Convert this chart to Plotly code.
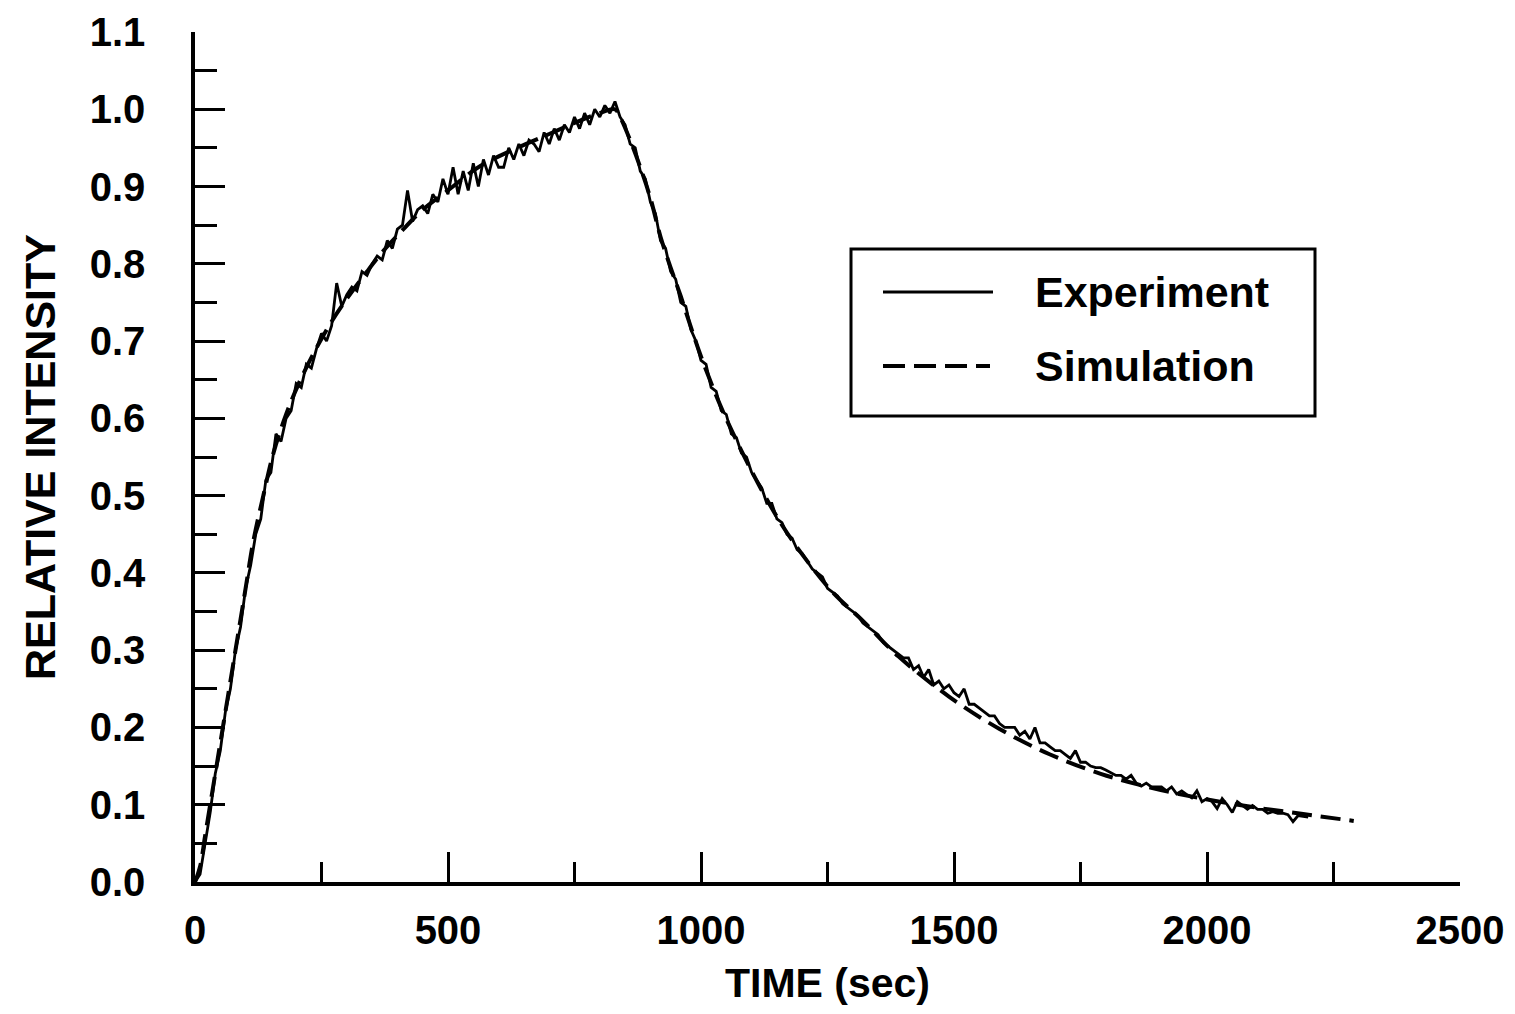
import plotly.graph_objects as go

# ---------------- data ----------------
exp_time = list(range(0, 2201, 10))
exp_value = [
    0.00, 0.01, 0.05, 0.09, 0.14, 0.17, 0.22, 0.25, 0.30, 0.33, 0.38,
    0.41, 0.45, 0.47, 0.52, 0.53, 0.58, 0.57, 0.60, 0.61, 0.645,
    0.64, 0.67, 0.665, 0.69, 0.71, 0.70, 0.72, 0.775, 0.745, 0.76,
    0.77, 0.765, 0.79, 0.785, 0.80, 0.81, 0.805, 0.83, 0.82, 0.845,
    0.85, 0.895, 0.855, 0.87, 0.875, 0.865, 0.89, 0.88, 0.91, 0.89,
    0.925, 0.89, 0.92, 0.895, 0.93, 0.90, 0.935, 0.915, 0.94, 0.925,
    0.925, 0.95, 0.935, 0.955, 0.94, 0.96, 0.955, 0.945, 0.97, 0.955,
    0.975, 0.96, 0.98, 0.97, 0.99, 0.975, 0.995, 0.98, 1.00, 0.99,
    1.005, 0.995, 1.01, 0.99, 0.98, 0.955, 0.95, 0.92, 0.91, 0.88,
    0.865, 0.83, 0.82, 0.79, 0.78, 0.75, 0.745, 0.715, 0.70, 0.675,
    0.67, 0.64, 0.635, 0.61, 0.605, 0.58, 0.575, 0.555, 0.55, 0.53,
    0.52, 0.51, 0.49, 0.49, 0.47, 0.465, 0.45, 0.445, 0.43, 0.425,
    0.415, 0.405, 0.40, 0.395, 0.38, 0.375, 0.37, 0.36, 0.355, 0.35,
    0.345, 0.335, 0.33, 0.325, 0.32, 0.31, 0.305, 0.30, 0.295, 0.29,
    0.29, 0.275, 0.28, 0.265, 0.275, 0.255, 0.26, 0.25, 0.255, 0.245,
    0.24, 0.25, 0.23, 0.23, 0.225, 0.22, 0.215, 0.215, 0.205, 0.20,
    0.20, 0.20, 0.19, 0.195, 0.185, 0.20, 0.18, 0.18, 0.175, 0.17,
    0.17, 0.165, 0.16, 0.17, 0.155, 0.155, 0.15, 0.148, 0.148, 0.145,
    0.142, 0.138, 0.138, 0.133, 0.138, 0.128, 0.124, 0.128, 0.123, 0.123,
    0.123, 0.118, 0.123, 0.114, 0.118, 0.113, 0.109, 0.118, 0.104, 0.108,
    0.104, 0.095, 0.108, 0.10, 0.09, 0.104, 0.099, 0.094, 0.099, 0.094,
    0.094, 0.089, 0.091, 0.089, 0.089, 0.087, 0.078, 0.086, 0.085, 0.084,
]

sim_time = [0, 10, 20, 30, 40, 50, 60, 70, 80, 90, 100, 115, 135, 155, 180,
            205, 235, 265, 295, 340, 370, 405, 450, 500, 560, 630, 700, 760,
            800, 830, 840, 860, 880, 900, 920, 940, 960, 980, 1000, 1040,
            1080, 1120, 1160, 1200, 1260, 1320, 1390, 1490, 1590, 1690, 1790,
            1890, 1990, 2090, 2190, 2290]
sim_value = [0.0, 0.02, 0.06, 0.10, 0.14, 0.18, 0.22, 0.26, 0.30, 0.34, 0.38,
             0.44, 0.50, 0.555, 0.605, 0.645, 0.685, 0.72, 0.75, 0.79, 0.815,
             0.84, 0.87, 0.895, 0.925, 0.948, 0.968, 0.985, 0.995, 1.0, 0.99,
             0.96, 0.925, 0.885, 0.835, 0.795, 0.758, 0.718, 0.68, 0.614,
             0.558, 0.507, 0.462, 0.424, 0.375, 0.338, 0.292, 0.24, 0.198,
             0.165, 0.14, 0.122, 0.108, 0.097, 0.088, 0.079]

x_ticks = [0, 500, 1000, 1500, 2000, 2500]
y_ticks = [0.0, 0.1, 0.2, 0.3, 0.4, 0.5, 0.6, 0.7, 0.8, 0.9, 1.0, 1.1]

# ---------------- figure ----------------
FONT = "Liberation Sans, Arial, Helvetica, sans-serif"
OFF = 8                      # default body margin of the page
W, H = 1515 - 2 * OFF, 1014 - 2 * OFF
L, T = 195 - OFF, 32 - OFF
R = W - (1460 - OFF)
B = H - (882 - OFF)
pw, ph = W - L - R, H - T - B


def px_x(p):
    return (p - OFF - L) / pw


def px_y(p):
    return (H - B - (p - OFF)) / ph


fig = go.Figure()
fig.add_trace(go.Scatter(x=exp_time, y=exp_value, mode="lines", name="Experiment",
                         line=dict(color="black", width=2.8), showlegend=False))
fig.add_trace(go.Scatter(x=sim_time, y=sim_value, mode="lines", name="Simulation",
                         line=dict(color="black", width=4, dash="20px,9px"),
                         line_shape="spline", showlegend=False))

tickfont = dict(family=FONT, size=40, color="black", weight="bold")
fig.update_xaxes(range=[0, 2500], tickvals=x_ticks, ticktext=[str(v) for v in x_ticks],
                 ticks="inside", ticklen=30, tickwidth=3, tickcolor="black",
                 showline=True, linecolor="black", linewidth=3.5,
                 showgrid=False, zeroline=False, tickfont=tickfont,
                 ticklabelstandoff=10,
                 minor=dict(dtick=250, ticks="inside", ticklen=20, tickwidth=3,
                            tickcolor="black", showgrid=False),
                 title=dict(text="TIME (sec)", standoff=24,
                            font=dict(family=FONT, size=41, color="black", weight="bold")))
fig.update_yaxes(range=[0, 1.1], tickvals=y_ticks, ticktext=[f"{v:.1f}" for v in y_ticks],
                 ticks="inside", ticklen=30, tickwidth=3, tickcolor="black",
                 showline=True, linecolor="black", linewidth=3.5,
                 showgrid=False, zeroline=False, tickfont=tickfont,
                 ticklabelstandoff=38,
                 minor=dict(dtick=0.05, ticks="inside", ticklen=22, tickwidth=3,
                            tickcolor="black", showgrid=False),
                 title=dict(text="RELATIVE INTENSITY", standoff=22,
                            font=dict(family=FONT, size=43, color="black", weight="bold")))

# legend box drawn as decoration
shapes = [
    dict(type="rect", xref="paper", yref="paper",
         x0=px_x(851), x1=px_x(1315), y0=px_y(416), y1=px_y(249),
         line=dict(color="black", width=3), fillcolor="white", layer="above"),
    dict(type="line", xref="paper", yref="paper",
         x0=px_x(883), x1=px_x(993), y0=px_y(292), y1=px_y(292),
         line=dict(color="black", width=2.8)),
    dict(type="line", xref="paper", yref="paper",
         x0=px_x(883), x1=px_x(990), y0=px_y(366), y1=px_y(366),
         line=dict(color="black", width=4, dash="22px,9px")),
]
legfont = dict(family=FONT, size=43, color="black", weight="bold")
annotations = [
    dict(text="Experiment", xref="paper", yref="paper", x=px_x(1033), y=px_y(292),
         xanchor="left", yanchor="middle", showarrow=False, font=legfont),
    dict(text="Simulation", xref="paper", yref="paper", x=px_x(1033), y=px_y(366),
         xanchor="left", yanchor="middle", showarrow=False, font=legfont),
]

fig.update_layout(width=W, height=H, margin=dict(l=L, r=R, t=T, b=B, autoexpand=False),
                  paper_bgcolor="white", plot_bgcolor="white",
                  shapes=shapes, annotations=annotations, showlegend=False)

fig.write_html("out.html")
